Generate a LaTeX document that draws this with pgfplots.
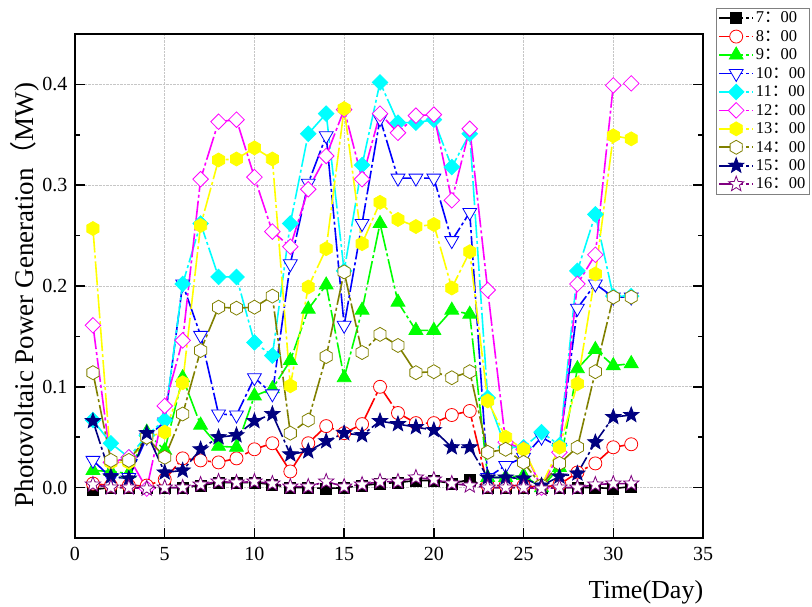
\documentclass[border=0pt]{standalone}
\usepackage{fontspec}
\setmainfont{Liberation Serif}
\newfontfamily\cjk{Noto Sans CJK SC}
\usepackage{pgfplots}
\pgfplotsset{compat=1.18}
\usetikzlibrary{plotmarks}
\definecolor{cgreen}{RGB}{0,255,0}
\definecolor{ccyan}{RGB}{0,255,255}
\definecolor{cmag}{RGB}{255,0,255}
\definecolor{cyel}{RGB}{255,255,0}
\definecolor{colive}{RGB}{128,128,0}
\definecolor{cnavy}{RGB}{0,0,128}
\definecolor{cpurp}{RGB}{128,0,128}
\pgfdeclareplotmark{hexagon}{%
  \pgfpathmoveto{\pgfqpointpolar{90}{\pgfplotmarksize}}%
  \pgfpathlineto{\pgfqpointpolar{150}{\pgfplotmarksize}}%
  \pgfpathlineto{\pgfqpointpolar{210}{\pgfplotmarksize}}%
  \pgfpathlineto{\pgfqpointpolar{270}{\pgfplotmarksize}}%
  \pgfpathlineto{\pgfqpointpolar{330}{\pgfplotmarksize}}%
  \pgfpathlineto{\pgfqpointpolar{30}{\pgfplotmarksize}}%
  \pgfpathclose
  \pgfusepathqfillstroke}
\pgfdeclareplotmark{fstar}{%
  \pgfpathmoveto{\pgfqpointpolar{90}{\pgfplotmarksize}}%
  \pgfpathlineto{\pgfqpointpolar{126}{0.42\pgfplotmarksize}}%
  \pgfpathlineto{\pgfqpointpolar{162}{\pgfplotmarksize}}%
  \pgfpathlineto{\pgfqpointpolar{198}{0.42\pgfplotmarksize}}%
  \pgfpathlineto{\pgfqpointpolar{234}{\pgfplotmarksize}}%
  \pgfpathlineto{\pgfqpointpolar{270}{0.42\pgfplotmarksize}}%
  \pgfpathlineto{\pgfqpointpolar{306}{\pgfplotmarksize}}%
  \pgfpathlineto{\pgfqpointpolar{342}{0.42\pgfplotmarksize}}%
  \pgfpathlineto{\pgfqpointpolar{18}{\pgfplotmarksize}}%
  \pgfpathlineto{\pgfqpointpolar{54}{0.42\pgfplotmarksize}}%
  \pgfpathclose
  \pgfusepathqfillstroke}
\newcommand{\hh}[1]{#1{\cjk ：}00}
\begin{document}
\begin{tikzpicture}
\useasboundingbox (-75bp,-69bp) rectangle (737bp,538bp);
\begin{axis}[
  at={(0,0)}, anchor=south west,
  scale only axis, width=628bp, height=504bp,
  xmin=0, xmax=35, ymin=-0.05, ymax=0.45,
  xtick={0,5,10,15,20,25,30,35},
  ytick={0,0.1,0.2,0.3,0.4},
  minor ytick={-0.05,0.05,0.15,0.25,0.35,0.45},
  yticklabels={0.0,0.1,0.2,0.3,0.4},
  xtick pos=bottom,
  tick align=inside,
  major tick length=10bp, minor tick length=5bp,
  every tick/.style={black, line width=1.5bp},
  axis line style={line width=1.8bp},
  grid=major,
  major grid style={densely dotted, gray!45, line width=0.8bp},
  /pgf/number format/assume math mode=true,
  tick label style={font=\fontsize{20bp}{24bp}\selectfont},
  xticklabel style={yshift=-6bp},
  yticklabel style={xshift=-4bp},
  xlabel={Time(Day)},
  xlabel style={at={(axis description cs:0.909,-0.107)}, anchor=center, font=\fontsize{26bp}{30bp}\selectfont},
  ylabel={Photovoltaic Power Generation{\cjk （}MW)},
  ylabel style={at={(axis description cs:-0.0796,0.482)}, anchor=center, font=\fontsize{27bp}{30bp}\selectfont},
  legend style={at={(axis description cs:1,1)}, anchor=north west, xshift=13bp, yshift=26bp,
    draw=gray, line width=0.8bp, font=\fontsize{16.5bp}{18bp}\selectfont,
    inner xsep=2bp, inner ysep=1.5bp, row sep=2bp},
  legend cell align=left,
  legend image code/.code={\draw[mark repeat=2, mark phase=2] plot coordinates {(0bp,0bp) (17bp,0bp) (34bp,0bp)};},
  every axis plot/.append style={line width=1.6bp, dash pattern=on 24bp off 3bp on 3bp off 3bp},
]
% 7:00
\addplot[color=black, mark=square*, mark size=5.5bp, mark options={solid, line width=0.8bp, fill=black}] coordinates {
(1,-0.002)(2,0)(3,0)(4,0)(5,0)(6,0)(7,0.002)(8,0.005)(9,0.005)(10,0.005)(11,0.003)(12,0)(13,0)(14,-0.001)(15,0)(16,0.002)(17,0.004)(18,0.005)(19,0.007)(20,0.007)(21,0.004)(22,0.008)(23,0)(24,0)(25,0)(26,0)(27,0)(28,0)(29,0)(30,-0.001)(31,0.001)};
\addlegendentry{\hh{7}}
% 8:00
\addplot[color=red, mark=*, mark size=6.5bp, mark options={solid, line width=0.8bp, fill=white}] coordinates {
(1,0.004)(2,0.002)(3,0.002)(4,0.002)(5,0.008)(6,0.029)(7,0.027)(8,0.025)(9,0.029)(10,0.038)(11,0.044)(12,0.016)(13,0.044)(14,0.061)(15,0.054)(16,0.063)(17,0.100)(18,0.074)(19,0.064)(20,0.064)(21,0.072)(22,0.076)(23,0.002)(24,0.002)(25,0.002)(26,0.0)(27,0.003)(28,0.015)(29,0.024)(30,0.040)(31,0.043)};
\addlegendentry{\hh{8}}
% 9:00
\addplot[color=cgreen, mark=triangle*, mark size=8bp, mark options={solid, line width=0.8bp, fill=cgreen}] coordinates {
(1,0.017)(2,0.016)(3,0.014)(4,0.055)(5,0.037)(6,0.109)(7,0.062)(8,0.041)(9,0.040)(10,0.091)(11,0.098)(12,0.126)(13,0.177)(14,0.201)(15,0.109)(16,0.176)(17,0.262)(18,0.184)(19,0.156)(20,0.156)(21,0.176)(22,0.172)(23,0.010)(24,0.010)(25,0.012)(26,0.0)(27,0.020)(28,0.118)(29,0.137)(30,0.121)(31,0.123)};
\addlegendentry{\hh{9}}
% 10:00
\addplot[color=blue, mark=triangle*, mark size=8bp, mark options={solid, line width=0.8bp, fill=white, rotate=180}] coordinates {
(1,0.027)(2,0.010)(3,0.010)(4,0.050)(5,0.065)(6,0.202)(7,0.151)(8,0.073)(9,0.072)(10,0.109)(11,0.093)(12,0.222)(13,0.302)(14,0.349)(15,0.161)(16,0.262)(17,0.366)(18,0.307)(19,0.307)(20,0.307)(21,0.245)(22,0.273)(23,0.010)(24,0.022)(25,0.030)(26,0.050)(27,0.040)(28,0.178)(29,0.202)(30,0.189)(31,0.189)};
\addlegendentry{\hh{10}}
% 11:00
\addplot[color=ccyan, mark=square*, mark size=5.5bp, mark options={solid, line width=0.8bp, fill=ccyan, rotate=45}] coordinates {
(1,0.067)(2,0.044)(3,0.030)(4,0.052)(5,0.067)(6,0.202)(7,0.262)(8,0.209)(9,0.209)(10,0.144)(11,0.131)(12,0.262)(13,0.351)(14,0.371)(15,0.215)(16,0.320)(17,0.402)(18,0.362)(19,0.362)(20,0.365)(21,0.318)(22,0.351)(23,0.089)(24,0.040)(25,0.040)(26,0.055)(27,0.042)(28,0.215)(29,0.271)(30,0.190)(31,0.190)};
\addlegendentry{\hh{11}}
% 12:00
\addplot[color=cmag, mark=square*, mark size=5.5bp, mark options={solid, line width=0.8bp, fill=white, rotate=45}] coordinates {
(1,0.161)(2,0.025)(3,0.030)(4,-0.001)(5,0.081)(6,0.146)(7,0.306)(8,0.363)(9,0.365)(10,0.308)(11,0.254)(12,0.239)(13,0.296)(14,0.329)(15,0.375)(16,0.306)(17,0.371)(18,0.352)(19,0.369)(20,0.370)(21,0.285)(22,0.356)(23,0.196)(24,0.045)(25,0.038)(26,0.0)(27,0.035)(28,0.202)(29,0.231)(30,0.399)(31,0.401)};
\addlegendentry{\hh{12}}
% 13:00
\addplot[color=cyel, mark=hexagon, mark size=7bp, mark options={solid, line width=0.8bp, fill=cyel}] coordinates {
(1,0.257)(2,0.025)(3,0.025)(4,0.050)(5,0.055)(6,0.104)(7,0.260)(8,0.325)(9,0.326)(10,0.337)(11,0.326)(12,0.101)(13,0.199)(14,0.237)(15,0.376)(16,0.242)(17,0.283)(18,0.266)(19,0.259)(20,0.261)(21,0.198)(22,0.234)(23,0.086)(24,0.050)(25,0.038)(26,0.002)(27,0.040)(28,0.103)(29,0.212)(30,0.349)(31,0.346)};
\addlegendentry{\hh{13}}
% 14:00
\addplot[color=colive, mark=hexagon, mark size=7bp, mark options={solid, line width=0.8bp, fill=white}] coordinates {
(1,0.114)(2,0.027)(3,0.027)(4,0.050)(5,0.030)(6,0.073)(7,0.136)(8,0.179)(9,0.178)(10,0.179)(11,0.190)(12,0.054)(13,0.067)(14,0.130)(15,0.214)(16,0.134)(17,0.152)(18,0.141)(19,0.114)(20,0.115)(21,0.109)(22,0.115)(23,0.035)(24,0.038)(25,0.025)(26,0.002)(27,0.024)(28,0.040)(29,0.115)(30,0.189)(31,0.189)};
\addlegendentry{\hh{14}}
% 15:00
\addplot[color=cnavy, mark=fstar, mark size=8bp, mark options={solid, line width=0.8bp, fill=cnavy}] coordinates {
(1,0.066)(2,0.011)(3,0.009)(4,0.054)(5,0.015)(6,0.017)(7,0.038)(8,0.050)(9,0.052)(10,0.066)(11,0.073)(12,0.033)(13,0.036)(14,0.046)(15,0.054)(16,0.052)(17,0.066)(18,0.063)(19,0.060)(20,0.057)(21,0.040)(22,0.040)(23,0.010)(24,0.010)(25,0.009)(26,0.002)(27,0.011)(28,0.014)(29,0.045)(30,0.070)(31,0.072)};
\addlegendentry{\hh{15}}
% 16:00
\addplot[color=cpurp, mark=fstar, mark size=8bp, mark options={solid, line width=0.8bp, fill=white}] coordinates {
(1,0.003)(2,0.0)(3,0.0)(4,-0.001)(5,0.0)(6,0.0)(7,0.003)(8,0.006)(9,0.005)(10,0.006)(11,0.004)(12,0.001)(13,0.001)(14,0.006)(15,0.001)(16,0.003)(17,0.006)(18,0.006)(19,0.010)(20,0.008)(21,0.004)(22,0.002)(23,0.0)(24,0.0)(25,0.0)(26,-0.001)(27,0.0)(28,0.0)(29,0.003)(30,0.004)(31,0.004)};
\addlegendentry{\hh{16}}
\end{axis}
\end{tikzpicture}
\end{document}
